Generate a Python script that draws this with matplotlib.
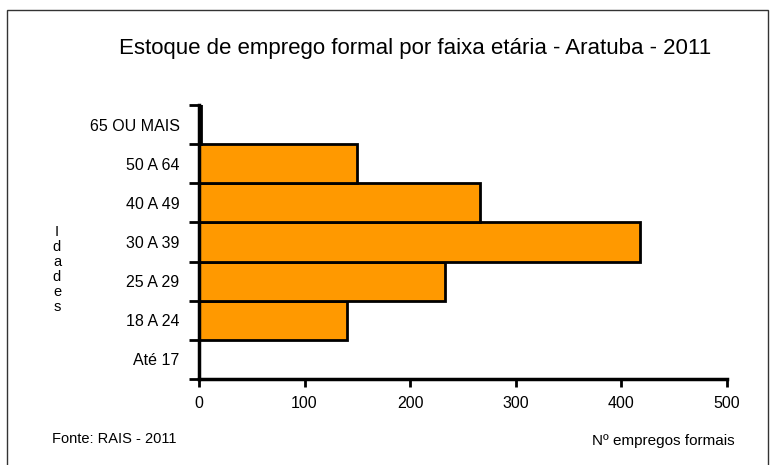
import matplotlib.pyplot as plt
from matplotlib.patches import Rectangle

plt.rcParams["font.family"] = ["Liberation Sans", "DejaVu Sans"]

faixas = ["Até 17", "18 A 24", "25 A 29", "30 A 39", "40 A 49", "50 A 64", "65 OU MAIS"]
empregos = [0, 140, 233, 418, 266, 150, 2]
xticks = [0, 100, 200, 300, 400, 500]

fig = plt.figure(figsize=(7.7, 4.65), dpi=100)
ax = fig.add_axes([0.2584, 0.185, 0.6856, 0.5892])

pos = list(range(len(faixas)))
ax.barh(pos, empregos, height=1.0, color="#FF9900", edgecolor="black", linewidth=2)

ax.set_xlim(0, 500)
ax.set_ylim(-0.5, len(faixas) - 0.5)
ax.set_xticks(xticks)
ax.set_xticklabels([str(v) for v in xticks], fontsize=11.5)
ax.set_yticks([p - 0.5 for p in pos] + [len(faixas) - 0.5])
ax.set_yticklabels([])
ax.set_yticks(pos, minor=True)
ax.set_yticklabels(faixas, minor=True, fontsize=11.5)
ax.tick_params(axis="y", which="minor", length=0, pad=14)
ax.tick_params(axis="y", which="major", length=7, width=2, direction="out")
ax.tick_params(axis="x", length=6, width=2, direction="out", pad=6)

for s in ["top", "right"]:
    ax.spines[s].set_visible(False)
for s in ["left", "bottom"]:
    ax.spines[s].set_linewidth(2.5)

fig.text(0.539, 0.895, "Estoque de emprego formal por faixa etária - Aratuba - 2011",
         ha="center", va="center", fontsize=16)
fig.text(0.074, 0.42, "I\nd\na\nd\ne\ns", ha="center", va="center",
         fontsize=10.5, linespacing=1.1)
fig.text(0.068, 0.056, "Fonte: RAIS - 2011", ha="left", va="center", fontsize=10.5)
fig.text(0.954, 0.051, "Nº empregos formais", ha="right", va="center", fontsize=11)

fig.patches.append(Rectangle((0.009, -0.01), 0.988, 0.989, transform=fig.transFigure,
                             fill=False, edgecolor="#333333", linewidth=1))

fig.savefig("out.png", dpi=100)
